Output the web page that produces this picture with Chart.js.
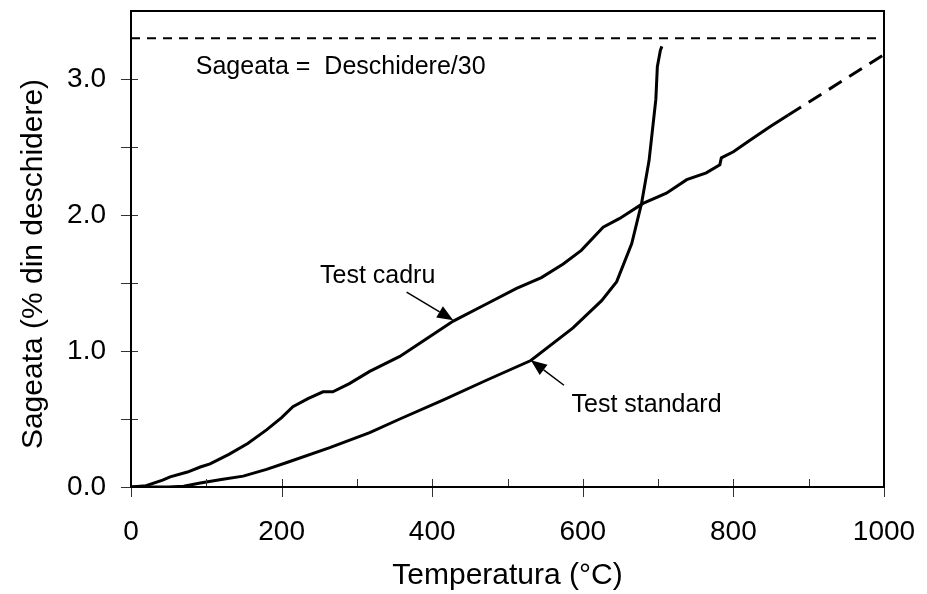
<!DOCTYPE html>
<html>
<head>
<meta charset="utf-8">
<script src="https://cdn.jsdelivr.net/npm/chart.js@4.4.1/dist/chart.umd.min.js"></script>
<style>
    body { margin: 0; background: #fff; }
    #wrap { width: 927px; height: 594px; }
</style>
</head>
<body>
<div id="wrap"><canvas id="sageataChart"></canvas></div>
<script>
// --- Date ---
const cadruTemp    = [0, 20, 42, 52, 75, 92, 105, 130, 155, 180, 200, 215, 235, 255, 268, 290, 317, 357, 390, 428, 470, 512, 545, 574, 598, 627, 649, 680, 711, 738, 764, 782, 784, 800, 822, 849, 873];
const cadruSageata = [0, 0.01, 0.05, 0.075, 0.11, 0.147, 0.17, 0.24, 0.32, 0.42, 0.51, 0.59, 0.65, 0.70, 0.70, 0.76, 0.85, 0.96, 1.08, 1.22, 1.34, 1.46, 1.54, 1.64, 1.74, 1.91, 1.975, 2.085, 2.16, 2.26, 2.31, 2.37, 2.42, 2.465, 2.55, 2.65, 2.735];
const cadruExtTemp    = [873, 1000];
const cadruExtSageata = [2.735, 3.18];

const standardTemp    = [0, 50, 70, 92, 120, 149, 180, 207, 264, 317, 357, 415, 472, 531, 587, 625, 645, 665, 678, 688, 697, 699, 703, 705];
const standardSageata = [0, 0, 0.005, 0.03, 0.055, 0.08, 0.13, 0.18, 0.29, 0.40, 0.50, 0.64, 0.785, 0.93, 1.17, 1.37, 1.51, 1.79, 2.085, 2.40, 2.85, 3.09, 3.21, 3.24];

const limitaTemp    = [0, 1000];
const limitaSageata = [3.3, 3.3];

const xTickLabels = [0, 200, 400, 600, 800, 1000];
const yTickLabels = [0, 1, 2, 3];
const xMinorTicks = [100, 300, 500, 700, 900];
const yAllTicks   = [0, 0.5, 1, 1.5, 2, 2.5, 3];

const yTitle = 'Sageata (% din deschidere)';

// texte si sageti, in coordonate de date
const notes = [
    { text: 'Sageata =  Deschidere/30', x: 86, y: 3.037 },
    { text: 'Test cadru', x: 251, y: 1.497 },
    { text: 'Test standard', x: 585, y: 0.552 }
];
const arrows = [
    { from: [366, 1.433], to: [428, 1.227] },
    { from: [575, 0.748], to: [531, 0.932] }
];

const toPts = (xs, ys) => xs.map((x, i) => ({ x: x, y: ys[i] }));

const FONT = 'Liberation Sans, Arial, sans-serif';

const decorPlugin = {
    id: 'decor',
    afterDraw(chart) {
        const ctx = chart.ctx;
        const xs = chart.scales.x, ys = chart.scales.y;
        const a = chart.chartArea;
        ctx.save();

        // tick marks
        ctx.strokeStyle = '#333';
        ctx.lineWidth = 1;
        ctx.beginPath();
        yAllTicks.forEach(v => {
            const py = Math.round(ys.getPixelForValue(v)) + 0.5;
            ctx.moveTo(a.left - 10, py);
            ctx.lineTo(a.left + 7, py);
        });
        xTickLabels.forEach(v => {
            const px = Math.round(xs.getPixelForValue(v)) + 0.5;
            ctx.moveTo(px, a.bottom - 8);
            ctx.lineTo(px, a.bottom + 10);
        });
        xMinorTicks.forEach(v => {
            const px = Math.round(xs.getPixelForValue(v)) + 0.5;
            ctx.moveTo(px, a.bottom - 8);
            ctx.lineTo(px, a.bottom);
        });
        ctx.stroke();

        // frame
        ctx.strokeStyle = '#000';
        ctx.lineWidth = 2;
        ctx.strokeRect(a.left, a.top, a.right - a.left, a.bottom - a.top);

        // y axis title (slightly below centre, as in the original)
        ctx.fillStyle = '#000';
        ctx.save();
        ctx.translate(34, (a.top + a.bottom) / 2 + 15);
        ctx.rotate(-Math.PI / 2);
        ctx.font = '30px ' + FONT;
        ctx.textAlign = 'center';
        ctx.textBaseline = 'middle';
        ctx.fillText(yTitle, 0, 0);
        ctx.restore();

        // texts
        ctx.font = '25px ' + FONT;
        ctx.textAlign = 'left';
        ctx.textBaseline = 'alphabetic';
        notes.forEach(n => {
            ctx.fillText(n.text, xs.getPixelForValue(n.x), ys.getPixelForValue(n.y));
        });

        // arrows
        arrows.forEach(ar => {
            const x1 = xs.getPixelForValue(ar.from[0]), y1 = ys.getPixelForValue(ar.from[1]);
            const x2 = xs.getPixelForValue(ar.to[0]), y2 = ys.getPixelForValue(ar.to[1]);
            const ang = Math.atan2(y2 - y1, x2 - x1);
            const len = 16, half = 6.5;
            const bx = x2 - len * Math.cos(ang), by = y2 - len * Math.sin(ang);
            ctx.lineWidth = 1.5;
            ctx.beginPath();
            ctx.moveTo(x1, y1);
            ctx.lineTo(bx, by);
            ctx.stroke();
            ctx.beginPath();
            ctx.moveTo(x2, y2);
            ctx.lineTo(bx + half * Math.sin(ang), by - half * Math.cos(ang));
            ctx.lineTo(bx - half * Math.sin(ang), by + half * Math.cos(ang));
            ctx.closePath();
            ctx.fill();
        });

        ctx.restore();
    }
};

const lineStyle = { borderColor: '#000', pointRadius: 0, showLine: true, tension: 0, fill: false };

new Chart(document.getElementById('sageataChart'), {
    type: 'scatter',
    data: {
        datasets: [
            Object.assign({ label: 'Test cadru', data: toPts(cadruTemp, cadruSageata), borderWidth: 3 }, lineStyle),
            Object.assign({ label: 'Test cadru (extins)', data: toPts(cadruExtTemp, cadruExtSageata), borderWidth: 3, borderDash: [15, 9] }, lineStyle),
            Object.assign({ label: 'Test standard', data: toPts(standardTemp, standardSageata), borderWidth: 3 }, lineStyle),
            Object.assign({ label: 'Limita', data: toPts(limitaTemp, limitaSageata), borderWidth: 2, borderDash: [9, 7] }, lineStyle)
        ]
    },
    options: {
        responsive: true,
        maintainAspectRatio: false,
        animation: false,
        layout: { padding: { top: 11, right: 43, left: 0, bottom: 0 } },
        plugins: {
            legend: { display: false },
            tooltip: { enabled: false }
        },
        scales: {
            x: {
                type: 'linear',
                min: 0,
                max: 1000,
                afterFit: s => { s.height = 107; s.paddingLeft = 0; s.paddingRight = 0; },
                afterBuildTicks: s => { s.ticks = xTickLabels.map(v => ({ value: v })); },
                grid: { drawOnChartArea: false, drawTicks: true, tickLength: 10, tickColor: 'rgba(0,0,0,0)' },
                border: { display: false },
                ticks: { color: '#000', padding: 18, maxRotation: 0, callback: v => String(v), font: { family: FONT, size: 28 } },
                title: { display: true, text: 'Temperatura (°C)', color: '#000', padding: 0, font: { family: FONT, size: 30 } }
            },
            y: {
                type: 'linear',
                min: 0,
                max: 3.5,
                afterFit: s => { s.width = 131; s.paddingTop = 0; s.paddingBottom = 0; },
                afterBuildTicks: s => { s.ticks = yTickLabels.map(v => ({ value: v })); },
                grid: { drawOnChartArea: false, drawTicks: true, tickLength: 10, tickColor: 'rgba(0,0,0,0)' },
                border: { display: false },
                ticks: { color: '#000', padding: 15, callback: v => Number(v).toFixed(1), font: { family: FONT, size: 28 } },
                title: { display: false }
            }
        }
    },
    plugins: [decorPlugin]
});
</script>
</body>
</html>
